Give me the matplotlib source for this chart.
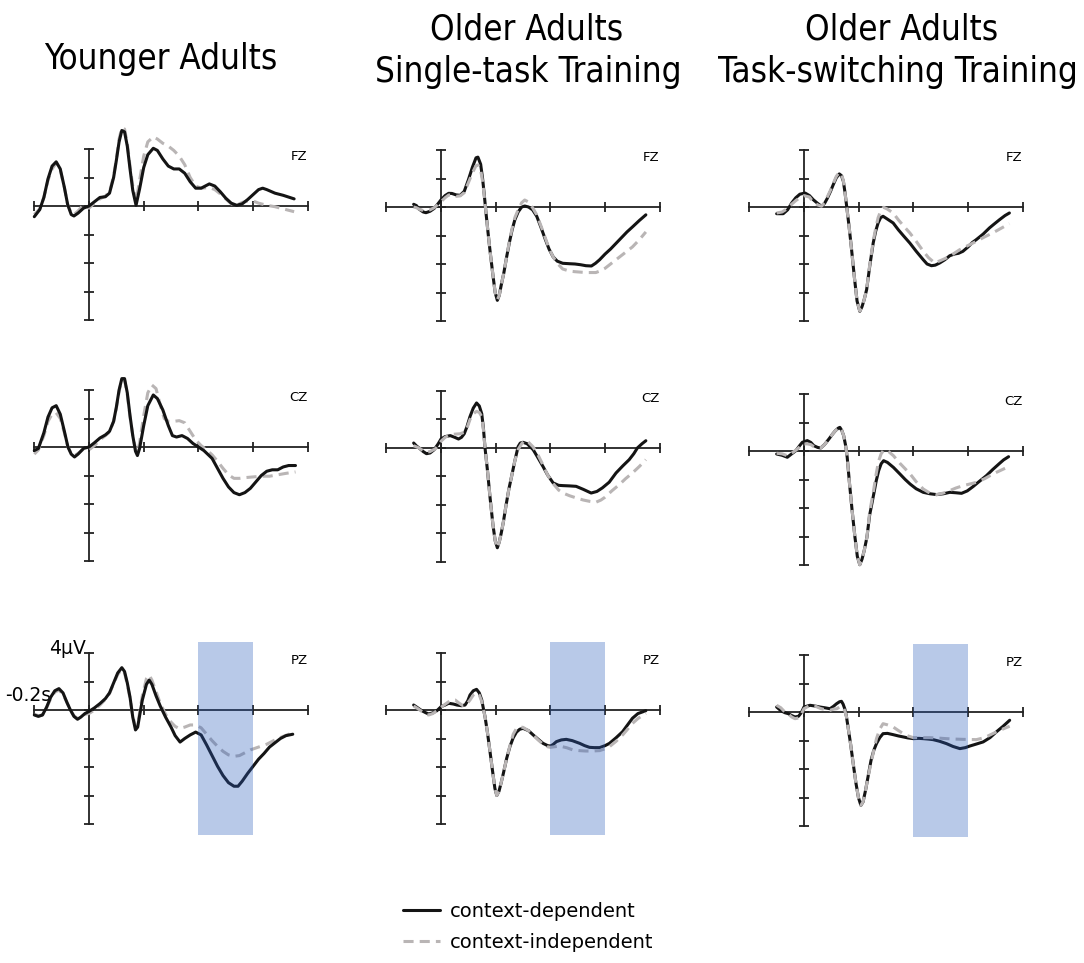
import numpy as np
import matplotlib
matplotlib.use("Agg")
import matplotlib.pyplot as plt

# ---- 데이터 (t [s], 진폭 [µV]) ----
# Younger Adults
yng_fz_dep = [(-0.20, -0.75), (-0.18, -0.25), (-0.165, 0.6), (-0.15, 1.9), (-0.135, 2.8), (-0.12, 3.1),
              (-0.105, 2.6), (-0.09, 1.3), (-0.078, 0.1), (-0.065, -0.6), (-0.055, -0.7), (-0.04, -0.5),
              (-0.02, -0.15), (0.0, 0.0), (0.02, 0.3), (0.04, 0.6), (0.06, 0.65), (0.075, 0.9), (0.09, 2.0),
              (0.10, 3.2), (0.11, 4.5), (0.12, 5.3), (0.13, 5.2), (0.14, 4.2), (0.15, 2.6), (0.16, 1.1),
              (0.172, 0.05), (0.185, 1.2), (0.20, 2.7), (0.215, 3.6), (0.235, 4.05), (0.25, 3.9), (0.27, 3.3),
              (0.29, 2.8), (0.31, 2.6), (0.33, 2.6), (0.35, 2.3), (0.37, 1.7), (0.39, 1.25), (0.41, 1.25),
              (0.44, 1.55), (0.46, 1.4), (0.48, 1.0), (0.50, 0.55), (0.52, 0.2), (0.54, 0.05), (0.56, 0.15),
              (0.58, 0.45), (0.60, 0.8), (0.62, 1.15), (0.635, 1.25), (0.65, 1.15), (0.68, 0.9), (0.71, 0.75),
              (0.75, 0.5)]
yng_fz_ind = [(-0.20, -0.6), (-0.18, -0.2), (-0.165, 0.6), (-0.15, 1.8), (-0.135, 2.6), (-0.12, 3.0),
              (-0.105, 2.5), (-0.09, 1.3), (-0.078, 0.1), (-0.065, -0.5), (-0.055, -0.6), (-0.04, -0.35),
              (-0.02, 0.1), (0.0, -0.15), (0.02, 0.2), (0.04, 0.5), (0.06, 0.7), (0.075, 1.0), (0.09, 2.1),
              (0.10, 3.3), (0.11, 4.7), (0.12, 5.5), (0.13, 5.4), (0.14, 4.4), (0.15, 2.8), (0.16, 1.4),
              (0.172, 0.3), (0.185, 1.8), (0.20, 3.5), (0.215, 4.5), (0.235, 4.85), (0.25, 4.7), (0.27, 4.4),
              (0.29, 4.2), (0.31, 3.9), (0.33, 3.5), (0.35, 2.9), (0.37, 2.0), (0.39, 1.4), (0.41, 1.25),
              (0.44, 1.3), (0.46, 1.15), (0.48, 0.85), (0.50, 0.5), (0.52, 0.15), (0.54, 0.05), (0.56, 0.25),
              (0.58, 0.35), (0.60, 0.35), (0.62, 0.2), (0.65, 0.05), (0.68, -0.05), (0.71, -0.2), (0.75, -0.4)]

yng_cz_dep = [(-0.20, -0.25), (-0.185, -0.1), (-0.165, 1.0), (-0.15, 2.1), (-0.135, 2.75), (-0.12, 2.9),
              (-0.105, 2.3), (-0.09, 1.1), (-0.077, 0.0), (-0.065, -0.5), (-0.053, -0.7), (-0.04, -0.5),
              (-0.02, -0.1), (0.0, 0.0), (0.02, 0.3), (0.04, 0.63), (0.06, 0.85), (0.075, 1.1), (0.09, 1.8),
              (0.10, 2.8), (0.11, 4.0), (0.12, 4.8), (0.13, 4.8), (0.14, 3.8), (0.15, 2.2), (0.16, 0.8),
              (0.17, -0.3), (0.177, -0.6), (0.185, -0.1), (0.20, 1.5), (0.215, 2.9), (0.235, 3.65), (0.25, 3.4),
              (0.27, 2.6), (0.29, 1.5), (0.305, 0.8), (0.32, 0.7), (0.34, 0.8), (0.36, 0.6), (0.38, 0.25),
              (0.40, 0.0), (0.42, -0.25), (0.45, -0.8), (0.47, -1.5), (0.49, -2.2), (0.51, -2.8), (0.53, -3.2),
              (0.55, -3.35), (0.57, -3.2), (0.59, -2.9), (0.61, -2.45), (0.63, -2.0), (0.65, -1.7), (0.67, -1.6),
              (0.69, -1.6), (0.71, -1.4), (0.73, -1.3), (0.755, -1.3)]
yng_cz_ind = [(-0.20, -0.5), (-0.185, -0.2), (-0.165, 0.8), (-0.15, 1.8), (-0.135, 2.3), (-0.12, 2.4),
              (-0.105, 2.0), (-0.09, 1.0), (-0.077, 0.0), (-0.065, -0.45), (-0.053, -0.6), (-0.04, -0.45),
              (-0.02, -0.15), (0.0, -0.2), (0.02, 0.1), (0.04, 0.5), (0.06, 0.8), (0.075, 1.05), (0.09, 1.8),
              (0.10, 2.7), (0.11, 3.9), (0.12, 4.7), (0.13, 4.7), (0.14, 3.7), (0.15, 2.1), (0.16, 0.8),
              (0.17, -0.1), (0.177, -0.4), (0.185, 0.3), (0.20, 2.2), (0.215, 3.8), (0.23, 4.35), (0.245, 4.1),
              (0.26, 3.0), (0.275, 2.0), (0.29, 1.8), (0.31, 1.8), (0.33, 1.85), (0.35, 1.7), (0.37, 1.1),
              (0.39, 0.5), (0.41, 0.1), (0.43, -0.2), (0.45, -0.55), (0.47, -1.0), (0.49, -1.5), (0.51, -1.95),
              (0.53, -2.2), (0.55, -2.2), (0.57, -2.15), (0.60, -2.1), (0.63, -2.05), (0.66, -2.05), (0.69, -1.95),
              (0.72, -1.85), (0.755, -1.75)]

yng_pz_dep = [(-0.20, -0.35), (-0.185, -0.45), (-0.17, -0.35), (-0.155, 0.2), (-0.14, 0.9), (-0.125, 1.35),
              (-0.11, 1.5), (-0.095, 1.2), (-0.08, 0.5), (-0.068, 0.0), (-0.055, -0.45), (-0.042, -0.65),
              (-0.03, -0.5), (-0.015, -0.25), (0.0, -0.1), (0.02, 0.15), (0.04, 0.45), (0.06, 0.8), (0.075, 1.2),
              (0.09, 1.9), (0.105, 2.6), (0.12, 2.97), (0.13, 2.7), (0.14, 1.9), (0.15, 0.9), (0.16, -0.5),
              (0.17, -1.4), (0.178, -1.2), (0.185, -0.4), (0.195, 0.7), (0.21, 1.8), (0.22, 2.1), (0.23, 1.8),
              (0.245, 1.0), (0.26, 0.3), (0.28, -0.5), (0.30, -1.2), (0.315, -1.8), (0.333, -2.25), (0.35, -2.0),
              (0.37, -1.75), (0.39, -1.55), (0.41, -1.75), (0.43, -2.45), (0.45, -3.2), (0.47, -3.95), (0.49, -4.6),
              (0.51, -5.1), (0.53, -5.35), (0.545, -5.35), (0.56, -5.0), (0.58, -4.45), (0.60, -3.95), (0.62, -3.45),
              (0.64, -3.05), (0.66, -2.6), (0.68, -2.3), (0.70, -2.0), (0.72, -1.8), (0.745, -1.7)]
yng_pz_ind = [(-0.20, -0.3), (-0.185, -0.4), (-0.17, -0.35), (-0.155, 0.15), (-0.14, 0.8), (-0.125, 1.25),
              (-0.11, 1.4), (-0.095, 1.1), (-0.08, 0.5), (-0.068, 0.0), (-0.055, -0.4), (-0.042, -0.6),
              (-0.03, -0.5), (-0.015, -0.3), (0.0, -0.25), (0.02, 0.0), (0.04, 0.35), (0.06, 0.75), (0.075, 1.15),
              (0.09, 1.85), (0.105, 2.5), (0.12, 2.85), (0.13, 2.6), (0.14, 1.8), (0.15, 0.8), (0.16, -0.4),
              (0.17, -1.2), (0.178, -1.0), (0.185, -0.2), (0.195, 1.0), (0.21, 2.2), (0.22, 2.45), (0.23, 2.1),
              (0.245, 1.3), (0.26, 0.5), (0.28, -0.3), (0.30, -0.85), (0.315, -1.15), (0.33, -1.3), (0.35, -1.2),
              (0.37, -1.05), (0.39, -1.05), (0.41, -1.25), (0.43, -1.7), (0.45, -2.15), (0.47, -2.55), (0.49, -2.9),
              (0.51, -3.15), (0.53, -3.25), (0.55, -3.2), (0.57, -3.0), (0.59, -2.8), (0.62, -2.6), (0.65, -2.4),
              (0.68, -2.1), (0.71, -1.85), (0.745, -1.6)]

# Older Adults, Single-task Training
st_fz_dep = [(-0.10, 0.19), (-0.09, 0.1), (-0.08, -0.15), (-0.065, -0.35), (-0.055, -0.4), (-0.04, -0.3),
             (-0.025, -0.1), (-0.01, 0.25), (0.0, 0.5), (0.015, 0.8), (0.028, 0.96), (0.04, 0.95), (0.055, 0.85),
             (0.07, 0.82), (0.085, 1.1), (0.10, 1.9), (0.115, 2.8), (0.128, 3.45), (0.135, 3.5), (0.145, 3.0),
             (0.152, 2.0), (0.158, 0.9), (0.165, -0.5), (0.172, -1.8), (0.18, -3.2), (0.19, -4.8), (0.198, -6.0),
             (0.206, -6.55), (0.213, -6.2), (0.22, -5.5), (0.23, -4.6), (0.24, -3.5), (0.25, -2.5), (0.26, -1.6),
             (0.27, -0.9), (0.282, -0.35), (0.295, 0.0), (0.306, 0.07), (0.32, 0.0), (0.335, -0.2), (0.35, -0.65),
             (0.365, -1.4), (0.38, -2.2), (0.395, -2.95), (0.41, -3.5), (0.425, -3.8), (0.445, -3.95), (0.47, -3.98),
             (0.49, -4.0), (0.51, -4.05), (0.53, -4.12), (0.55, -4.14), (0.565, -3.95), (0.58, -3.7), (0.60, -3.3),
             (0.62, -2.95), (0.64, -2.55), (0.66, -2.15), (0.68, -1.75), (0.70, -1.4), (0.725, -0.95), (0.749, -0.55)]
st_fz_ind = [(-0.10, 0.0), (-0.09, -0.05), (-0.08, -0.15), (-0.065, -0.25), (-0.055, -0.25), (-0.04, -0.2),
             (-0.025, -0.05), (-0.01, 0.2), (0.0, 0.37), (0.015, 0.65), (0.028, 0.84), (0.04, 0.85), (0.055, 0.75),
             (0.07, 0.78), (0.085, 1.0), (0.10, 1.7), (0.115, 2.4), (0.128, 2.9), (0.135, 2.95), (0.145, 2.6),
             (0.152, 1.8), (0.158, 0.8), (0.165, -0.5), (0.172, -1.8), (0.18, -3.2), (0.19, -4.8), (0.198, -6.0),
             (0.206, -6.5), (0.213, -6.2), (0.22, -5.5), (0.23, -4.6), (0.24, -3.5), (0.25, -2.4), (0.26, -1.5),
             (0.27, -0.75), (0.282, -0.2), (0.295, 0.3), (0.306, 0.49), (0.32, 0.35), (0.335, -0.05), (0.35, -0.55),
             (0.365, -1.3), (0.38, -2.1), (0.395, -2.9), (0.41, -3.5), (0.425, -3.95), (0.445, -4.35), (0.47, -4.5),
             (0.49, -4.54), (0.51, -4.57), (0.53, -4.6), (0.55, -4.6), (0.566, -4.6), (0.58, -4.5), (0.60, -4.3),
             (0.62, -4.0), (0.64, -3.7), (0.66, -3.4), (0.68, -3.1), (0.70, -2.8), (0.725, -2.3), (0.749, -1.75)]

st_cz_dep = [(-0.10, 0.35), (-0.09, 0.15), (-0.08, 0.0), (-0.065, -0.25), (-0.053, -0.4), (-0.04, -0.35),
             (-0.025, -0.12), (-0.01, 0.3), (0.0, 0.63), (0.015, 0.8), (0.034, 0.87), (0.05, 0.75), (0.064, 0.63),
             (0.075, 0.75), (0.085, 1.0), (0.095, 1.5), (0.106, 2.2), (0.118, 2.8), (0.13, 3.16), (0.14, 2.95),
             (0.149, 2.4), (0.155, 1.4), (0.161, 0.0), (0.17, -1.6), (0.18, -3.6), (0.19, -5.4), (0.198, -6.5),
             (0.206, -7.0), (0.213, -6.6), (0.22, -6.0), (0.228, -5.2), (0.238, -4.0), (0.248, -2.9), (0.258, -2.0),
             (0.27, -0.9), (0.282, 0.1), (0.29, 0.35), (0.30, 0.4), (0.315, 0.3), (0.337, -0.12), (0.355, -0.7),
             (0.373, -1.3), (0.39, -1.9), (0.41, -2.45), (0.43, -2.62), (0.446, -2.64), (0.47, -2.66), (0.494, -2.69),
             (0.52, -2.9), (0.549, -3.16), (0.57, -3.05), (0.59, -2.8), (0.615, -2.4), (0.64, -1.75), (0.665, -1.25),
             (0.688, -0.82), (0.705, -0.4), (0.718, 0.0), (0.735, 0.3), (0.749, 0.51)]
st_cz_ind = [(-0.10, 0.16), (-0.08, 0.0), (-0.065, -0.2), (-0.053, -0.3), (-0.04, -0.25), (-0.02, -0.05),
             (0.0, 0.47), (0.015, 0.75), (0.034, 0.94), (0.05, 0.97), (0.07, 1.0), (0.085, 1.1), (0.095, 1.4),
             (0.106, 2.0), (0.118, 2.4), (0.13, 2.57), (0.14, 2.5), (0.149, 2.2), (0.155, 1.3), (0.161, 0.0),
             (0.17, -1.6), (0.18, -3.6), (0.19, -5.4), (0.198, -6.5), (0.206, -7.0), (0.213, -6.6), (0.22, -6.0),
             (0.228, -5.2), (0.238, -4.0), (0.248, -2.9), (0.258, -2.0), (0.27, -0.9), (0.282, -0.1), (0.295, 0.3),
             (0.306, 0.54), (0.32, 0.4), (0.337, 0.07), (0.355, -0.5), (0.373, -1.2), (0.39, -1.9), (0.41, -2.5),
             (0.43, -2.95), (0.446, -3.16), (0.47, -3.35), (0.494, -3.5), (0.52, -3.65), (0.545, -3.75),
             (0.566, -3.81), (0.585, -3.65), (0.60, -3.45), (0.625, -3.0), (0.652, -2.57), (0.675, -2.15),
             (0.70, -1.75), (0.725, -1.3), (0.749, -0.82)]

st_pz_dep = [(-0.10, 0.35), (-0.085, 0.15), (-0.07, -0.05), (-0.055, -0.2), (-0.045, -0.28), (-0.03, -0.2),
             (-0.015, -0.05), (0.0, 0.23), (0.015, 0.35), (0.028, 0.47), (0.045, 0.42), (0.058, 0.35), (0.075, 0.3),
             (0.088, 0.35), (0.098, 0.65), (0.106, 1.05), (0.118, 1.35), (0.13, 1.45), (0.14, 1.2), (0.149, 0.7),
             (0.155, 0.1), (0.161, -0.47), (0.17, -1.6), (0.18, -3.04), (0.19, -4.5), (0.197, -5.5), (0.204, -6.0),
             (0.212, -5.7), (0.22, -5.1), (0.228, -4.45), (0.24, -3.4), (0.252, -2.57), (0.264, -1.95),
             (0.276, -1.55), (0.288, -1.35), (0.30, -1.29), (0.32, -1.45), (0.337, -1.75), (0.355, -2.05),
             (0.373, -2.34), (0.39, -2.5), (0.40, -2.53), (0.41, -2.42), (0.422, -2.22), (0.44, -2.1), (0.458, -2.06),
             (0.48, -2.15), (0.507, -2.34), (0.525, -2.5), (0.543, -2.62), (0.56, -2.64), (0.58, -2.64), (0.60, -2.5),
             (0.616, -2.34), (0.64, -1.95), (0.664, -1.52), (0.68, -1.1), (0.70, -0.58), (0.72, -0.25), (0.749, -0.05)]
st_pz_ind = [(-0.10, 0.28), (-0.085, 0.1), (-0.07, -0.1), (-0.055, -0.3), (-0.045, -0.35), (-0.03, -0.25),
             (-0.015, -0.05), (0.0, 0.19), (0.015, 0.4), (0.028, 0.58), (0.04, 0.68), (0.052, 0.7), (0.065, 0.5),
             (0.08, 0.3), (0.092, 0.35), (0.106, 0.7), (0.118, 1.05), (0.13, 1.22), (0.14, 1.05), (0.149, 0.6),
             (0.155, 0.05), (0.161, -0.47), (0.17, -1.6), (0.18, -3.04), (0.19, -4.5), (0.197, -5.5), (0.204, -6.0),
             (0.212, -5.7), (0.22, -5.1), (0.228, -4.45), (0.24, -3.4), (0.252, -2.5), (0.264, -1.7), (0.276, -1.29),
             (0.29, -1.2), (0.30, -1.22), (0.32, -1.45), (0.337, -1.75), (0.355, -2.1), (0.373, -2.4), (0.39, -2.58),
             (0.40, -2.62), (0.415, -2.58), (0.434, -2.53), (0.46, -2.65), (0.482, -2.8), (0.505, -2.85),
             (0.531, -2.88), (0.56, -2.87), (0.58, -2.85), (0.60, -2.72), (0.616, -2.57), (0.64, -2.2),
             (0.664, -1.75), (0.68, -1.4), (0.70, -0.94), (0.72, -0.6), (0.749, -0.23)]

# Older Adults, Task-switching Training
ts_fz_dep = [(-0.10, -0.47), (-0.076, -0.47), (-0.06, -0.2), (-0.045, 0.28), (-0.03, 0.65), (-0.015, 0.9),
             (0.004, 0.98), (0.02, 0.8), (0.034, 0.51), (0.05, 0.25), (0.064, 0.05), (0.075, 0.25), (0.085, 0.6),
             (0.097, 1.1), (0.107, 1.57), (0.118, 2.05), (0.129, 2.32), (0.137, 2.2), (0.144, 1.8), (0.15, 1.0),
             (0.156, 0.05), (0.165, -1.4), (0.174, -3.0), (0.184, -4.9), (0.194, -6.6), (0.204, -7.32), (0.212, -7.0),
             (0.22, -6.5), (0.229, -5.8), (0.24, -4.2), (0.253, -2.53), (0.262, -1.7), (0.271, -1.12), (0.28, -0.75),
             (0.289, -0.65), (0.305, -0.85), (0.326, -1.12), (0.345, -1.6), (0.365, -2.05), (0.387, -2.53),
             (0.41, -3.1), (0.436, -3.7), (0.45, -4.0), (0.466, -4.12), (0.48, -4.08), (0.496, -3.93), (0.515, -3.7),
             (0.533, -3.42), (0.55, -3.3), (0.565, -3.25), (0.581, -3.11), (0.60, -2.8), (0.615, -2.5), (0.63, -2.29),
             (0.655, -1.9), (0.678, -1.47), (0.695, -1.2), (0.715, -0.89), (0.735, -0.6), (0.751, -0.42)]
ts_fz_ind = [(-0.10, -0.42), (-0.08, -0.35), (-0.06, -0.1), (-0.045, 0.2), (-0.03, 0.45), (-0.015, 0.65),
             (0.0, 0.8), (0.02, 0.7), (0.034, 0.33), (0.05, 0.15), (0.064, 0.05), (0.075, 0.3), (0.085, 0.7),
             (0.095, 1.1), (0.107, 1.65), (0.118, 2.15), (0.129, 2.43), (0.137, 2.3), (0.144, 1.85), (0.15, 1.0),
             (0.156, 0.05), (0.165, -1.4), (0.174, -3.0), (0.184, -4.9), (0.194, -6.6), (0.204, -7.3), (0.212, -7.0),
             (0.22, -6.5), (0.229, -5.8), (0.24, -4.1), (0.253, -2.4), (0.262, -1.5), (0.271, -0.75), (0.28, -0.3),
             (0.291, -0.02), (0.305, -0.15), (0.326, -0.42), (0.345, -0.9), (0.365, -1.35), (0.387, -1.82),
             (0.41, -2.4), (0.436, -3.1), (0.455, -3.55), (0.478, -3.93), (0.50, -3.75), (0.52, -3.58),
             (0.545, -3.3), (0.569, -3.0), (0.60, -2.7), (0.63, -2.41), (0.66, -2.1), (0.69, -1.82), (0.72, -1.5),
             (0.751, -1.17)]

ts_cz_dep = [(-0.10, -0.21), (-0.08, -0.3), (-0.061, -0.44), (-0.045, -0.2), (-0.03, 0.02), (-0.015, 0.4),
             (-0.006, 0.61), (0.012, 0.73), (0.025, 0.6), (0.036, 0.37), (0.05, 0.25), (0.061, 0.21), (0.075, 0.45),
             (0.091, 0.84), (0.105, 1.2), (0.115, 1.43), (0.125, 1.6), (0.131, 1.66), (0.138, 1.45), (0.145, 1.08),
             (0.152, 0.4), (0.158, -0.44), (0.166, -2.2), (0.176, -4.19), (0.186, -6.0), (0.195, -7.4),
             (0.204, -7.98), (0.212, -7.6), (0.22, -7.0), (0.23, -6.06), (0.24, -4.5), (0.255, -3.02), (0.264, -2.1),
             (0.273, -1.38), (0.282, -0.9), (0.291, -0.68), (0.305, -0.8), (0.327, -1.15), (0.35, -1.6), (0.37, -2.0),
             (0.388, -2.32), (0.41, -2.65), (0.436, -2.9), (0.46, -3.0), (0.485, -3.06), (0.51, -3.0), (0.533, -2.9),
             (0.555, -2.93), (0.576, -2.97), (0.597, -2.8), (0.618, -2.5), (0.64, -2.15), (0.667, -1.73),
             (0.69, -1.3), (0.715, -0.87), (0.73, -0.62), (0.748, -0.4)]
ts_cz_ind = [(-0.10, -0.16), (-0.08, -0.2), (-0.061, -0.33), (-0.045, -0.15), (-0.03, 0.05), (-0.015, 0.3),
             (-0.006, 0.5), (0.012, 0.5), (0.025, 0.45), (0.036, 0.3), (0.05, 0.22), (0.061, 0.21), (0.075, 0.45),
             (0.091, 0.84), (0.105, 1.2), (0.115, 1.43), (0.125, 1.6), (0.131, 1.66), (0.138, 1.45), (0.145, 1.08),
             (0.152, 0.4), (0.158, -0.44), (0.166, -2.2), (0.176, -4.19), (0.186, -6.0), (0.195, -7.4),
             (0.204, -7.98), (0.212, -7.6), (0.22, -7.0), (0.23, -6.06), (0.24, -4.3), (0.255, -2.7), (0.264, -1.6),
             (0.273, -0.7), (0.282, -0.2), (0.291, 0.05), (0.297, 0.07), (0.31, -0.05), (0.327, -0.33), (0.35, -0.85),
             (0.37, -1.25), (0.388, -1.61), (0.41, -2.15), (0.436, -2.67), (0.46, -2.95), (0.485, -3.06),
             (0.51, -2.95), (0.533, -2.78), (0.555, -2.6), (0.582, -2.43), (0.61, -2.3), (0.63, -2.2), (0.66, -1.95),
             (0.691, -1.61), (0.72, -1.35), (0.748, -1.1)]

ts_pz_dep = [(-0.10, 0.35), (-0.085, 0.1), (-0.07, -0.05), (-0.057, -0.12), (-0.045, -0.25), (-0.033, -0.35),
             (-0.02, -0.3), (-0.01, -0.05), (0.0, 0.35), (0.022, 0.47), (0.04, 0.42), (0.058, 0.35), (0.075, 0.3),
             (0.095, 0.23), (0.108, 0.4), (0.119, 0.58), (0.13, 0.72), (0.137, 0.75), (0.143, 0.55), (0.149, 0.23),
             (0.155, -0.3), (0.161, -1.05), (0.17, -2.2), (0.18, -3.63), (0.19, -5.0), (0.199, -6.0), (0.208, -6.55),
             (0.216, -6.3), (0.225, -5.5), (0.234, -4.56), (0.245, -3.4), (0.255, -2.7), (0.265, -2.22),
             (0.277, -1.8), (0.289, -1.52), (0.305, -1.5), (0.326, -1.59), (0.345, -1.68), (0.363, -1.75),
             (0.38, -1.82), (0.40, -1.87), (0.42, -1.85), (0.436, -1.87), (0.455, -1.9), (0.472, -1.94),
             (0.495, -2.05), (0.521, -2.22), (0.545, -2.42), (0.57, -2.57), (0.59, -2.5), (0.606, -2.39),
             (0.63, -2.25), (0.655, -2.1), (0.68, -1.8), (0.703, -1.4), (0.728, -1.0), (0.752, -0.58)]
ts_pz_ind = [(-0.10, 0.47), (-0.085, 0.3), (-0.07, 0.0), (-0.057, -0.15), (-0.045, -0.35), (-0.033, -0.47),
             (-0.02, -0.42), (-0.01, -0.15), (0.0, 0.23), (0.022, 0.47), (0.04, 0.42), (0.06, 0.25), (0.08, 0.15),
             (0.095, 0.12), (0.108, 0.2), (0.12, 0.23), (0.13, 0.35), (0.137, 0.4), (0.143, 0.3), (0.149, 0.1),
             (0.155, -0.3), (0.161, -1.05), (0.17, -2.2), (0.18, -3.63), (0.19, -5.0), (0.199, -6.0), (0.208, -6.55),
             (0.216, -6.3), (0.225, -5.5), (0.234, -4.56), (0.245, -3.6), (0.255, -2.7), (0.265, -1.87),
             (0.277, -1.2), (0.289, -0.82), (0.305, -0.9), (0.326, -1.05), (0.345, -1.3), (0.363, -1.52),
             (0.38, -1.68), (0.40, -1.8), (0.43, -1.8), (0.46, -1.8), (0.49, -1.83), (0.521, -1.87), (0.55, -1.9),
             (0.582, -1.92), (0.61, -1.93), (0.63, -1.94), (0.66, -1.8), (0.69, -1.52), (0.72, -1.25), (0.752, -1.0)]

group_titles = [["Younger Adults"],
                ["Older Adults", "Single-task Training"],
                ["Older Adults", "Task-switching Training"]]
electrodes = ["FZ", "CZ", "PZ"]
series = [[(yng_fz_dep, yng_fz_ind), (yng_cz_dep, yng_cz_ind), (yng_pz_dep, yng_pz_ind)],
          [(st_fz_dep, st_fz_ind), (st_cz_dep, st_cz_ind), (st_pz_dep, st_pz_ind)],
          [(ts_fz_dep, ts_fz_ind), (ts_cz_dep, ts_cz_ind), (ts_pz_dep, ts_pz_ind)]]
legend_labels = ["context-dependent", "context-independent"]

x_ticks = [-0.2, 0.0, 0.2, 0.4, 0.6, 0.8]
y_ticks = [-8, -6, -4, -2, 0, 2, 4]
win_start, win_end = 0.4, 0.6      # 음영 구간 (PZ)
win_low, win_high = -8.8, 4.8

# ---- 레이아웃 (픽셀 기준) ----
W, H = 1084, 963
PX_S = 273.5     # px per second
PX_UV = 14.25    # px per µV
col_x0 = [89, 441, 804]                       # t = 0 의 x 픽셀
row_y0 = [[206, 447, 710], [207, 448, 710], [207, 451, 712]]   # 0 µV 의 y 픽셀
XLIM = (-0.25, 0.85)
YLIM = (-9.5, 6.5)

BLACK = "#141414"
GRAY = "#b9b5b5"
SHADE = "#2a5cbc"

fig = plt.figure(figsize=(W / 100, H / 100), dpi=100)
title_kw = dict(fontsize=25, family="DejaVu Sans", stretch="condensed", ha="center", va="baseline")
fig.text(161 / W, 1 - 69 / H, group_titles[0][0], **title_kw)
fig.text(527 / W, 1 - 40 / H, group_titles[1][0], **title_kw)
fig.text(528 / W, 1 - 82 / H, group_titles[1][1], **title_kw)
fig.text(902 / W, 1 - 40 / H, group_titles[2][0], **title_kw)
fig.text(898 / W, 1 - 82 / H, group_titles[2][1], **title_kw)

handles = None
for c in range(3):
    for r in range(3):
        left = col_x0[c] + XLIM[0] * PX_S
        top = row_y0[c][r] - YLIM[1] * PX_UV
        w = (XLIM[1] - XLIM[0]) * PX_S
        h = (YLIM[1] - YLIM[0]) * PX_UV
        ax = fig.add_axes([left / W, 1 - (top + h) / H, w / W, h / H])
        ax.set_xlim(XLIM)
        ax.set_ylim(YLIM)
        ax.patch.set_alpha(0)

        for s in ["top", "right"]:
            ax.spines[s].set_visible(False)
        ax.spines["left"].set_position(("data", 0))
        ax.spines["bottom"].set_position(("data", 0))
        ax.spines["left"].set_bounds(-8, 4)
        ax.spines["bottom"].set_bounds(-0.2, 0.8)
        for s in ["left", "bottom"]:
            ax.spines[s].set_linewidth(1.3)
            ax.spines[s].set_color("#222222")
        ax.set_xticks(x_ticks)
        ax.set_yticks(y_ticks)
        ax.tick_params(direction="inout", length=7, width=1.3, color="#222222",
                       labelbottom=False, labelleft=False)

        dep, ind = series[c][r]
        td, vd = np.array(dep).T
        ti, vi = np.array(ind).T
        # 젊은 집단은 실선이 위, 노인 집단은 점선이 위
        z_dep, z_ind = (4, 3) if c == 0 else (3, 4)
        l1, = ax.plot(td, vd, color=BLACK, lw=2.2, zorder=z_dep, solid_joinstyle="round",
                      solid_capstyle="round")
        l2, = ax.plot(ti, vi, color=GRAY, lw=2.2, dashes=(3.3, 2.0), zorder=z_ind)
        if handles is None:
            handles = [l1, l2]

        ax.text(0.8, 3.5, electrodes[r], fontsize=9.5, ha="right", va="center")

        if r == 2:
            ax.fill_between([win_start, win_end], win_low, win_high, color=SHADE, alpha=0.33,
                            lw=0, zorder=5)

        if c == 0 and r == 2:
            ax.text(-0.012, 4.3, "4µV", fontsize=13.5, ha="right", va="center")
            ax.text(-0.224, 1.05, "-0.2s", fontsize=13.5, ha="center", va="center")

fig.legend(handles, legend_labels, loc="upper left", bbox_to_anchor=(403 / W, 1 - 902 / H),
           frameon=False, fontsize=14, handlelength=1.9, handletextpad=0.5, labelspacing=0.6,
           borderpad=0, borderaxespad=0)

fig.savefig("out.png", dpi=100)
